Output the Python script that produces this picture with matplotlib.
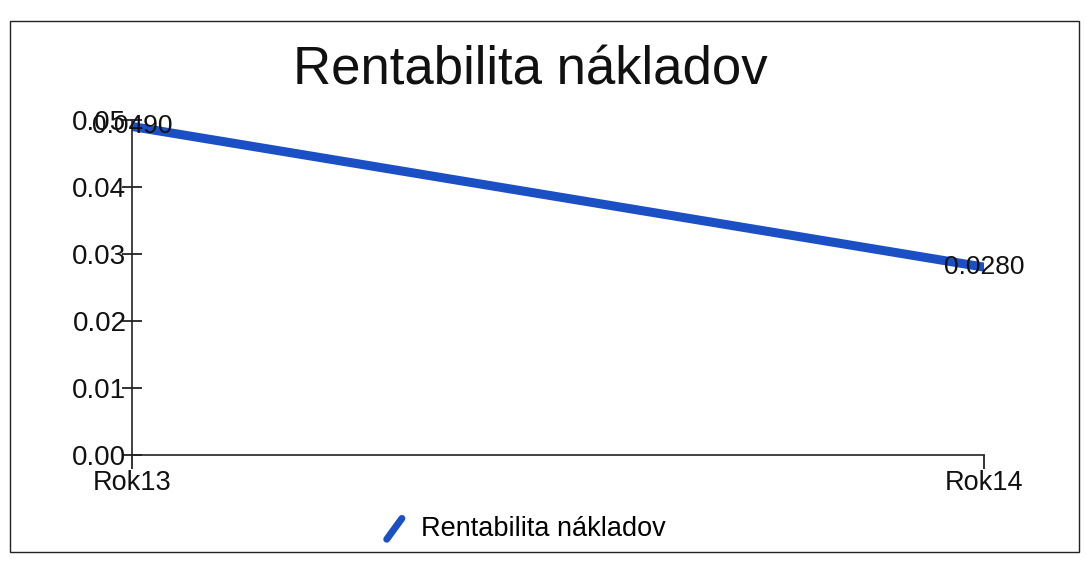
import matplotlib
matplotlib.use("Agg")
import matplotlib.pyplot as plt
from matplotlib.lines import Line2D
from matplotlib.legend_handler import HandlerBase
from matplotlib.patches import Rectangle

categories = ["Rok13", "Rok14"]
values = [0.0490, 0.0280]
value_labels = ["0.0490", "0.0280"]
series_name = "Rentabilita nákladov"
title = "Rentabilita nákladov"
yticks = [0.00, 0.01, 0.02, 0.03, 0.04, 0.05]

color = "#1b4fc4"
plt.rcParams['font.family'] = ['Liberation Sans', 'DejaVu Sans']

fig = plt.figure(figsize=(10.86, 5.65), dpi=100)
fig.patches.append(Rectangle((0.009, 0.023), 0.985, 0.94, transform=fig.transFigure,
                             fill=False, edgecolor="#222222", linewidth=1.0))

ax = fig.add_axes([0.1215, 0.195, 0.785, 0.593])
x = list(range(len(categories)))
ax.plot(x, values, color=color, linewidth=6.5, solid_capstyle='round')
for xi, v, lab in zip(x, values, value_labels):
    ax.text(xi, v, lab, ha='center', va='center', fontsize=19, color='#111111')

ax.set_xlim(0, len(categories) - 1)
ax.set_ylim(0, 0.05)
ax.set_xticks(x)
ax.set_xticklabels(categories, fontsize=19.5)
ax.set_yticks(yticks)
ax.set_yticklabels([f"{t:.2f}" for t in yticks], fontsize=20)
for s in ['top', 'right']:
    ax.spines[s].set_visible(False)
for s in ['left', 'bottom']:
    ax.spines[s].set_color('#222222')
    ax.spines[s].set_linewidth(1.2)
ax.tick_params(axis='y', direction='inout', length=14, width=1.2, pad=-3, colors='#111111')
ax.tick_params(axis='x', direction='out', length=10, width=1.2, pad=1, colors='#111111')

fig.text(0.488, 0.876, title, ha='center', va='center', fontsize=38, color='#111111')


class DiagHandler(HandlerBase):
    def create_artists(self, legend, orig_handle, xdescent, ydescent, width, height, fontsize, trans):
        w = height * 0.8
        cx = width / 2 - xdescent
        line = Line2D([cx - w / 2, cx + w / 2], [-ydescent - height * 0.15, -ydescent + height * 0.95],
                      color=color, linewidth=5, solid_capstyle='round', transform=trans)
        return [line]


handle = Line2D([], [], color=color)
fig.legend([handle], [series_name], loc='center', bbox_to_anchor=(0.482, 0.063),
           frameon=False, fontsize=19.5, handler_map={Line2D: DiagHandler()},
           handlelength=1.0, handletextpad=0.5)

fig.savefig("out.png", dpi=100)
